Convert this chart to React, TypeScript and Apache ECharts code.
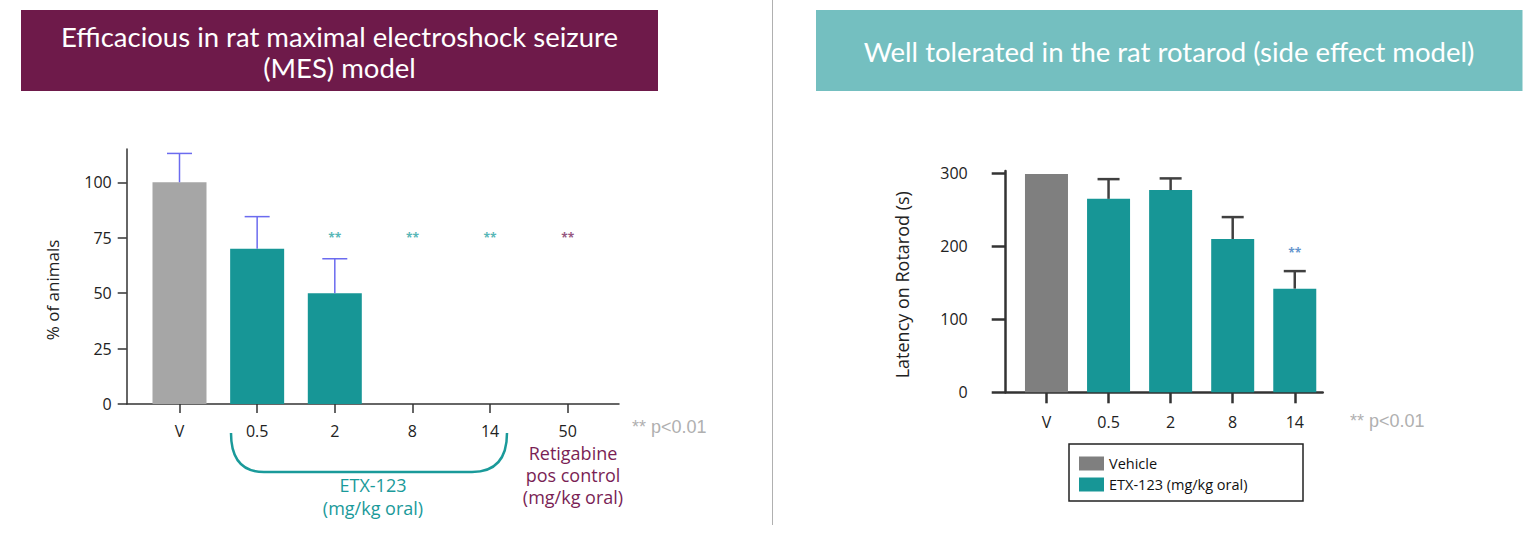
import React, { useEffect, useRef } from "react";
import * as echarts from "echarts";

// ---- Data ----
const leftCategories = ["V", "0.5", "2", "8", "14", "50"];
const leftValues = [100, 70, 50, 0, 0, 0];
const leftErrorTop = [113, 84.5, 65.5, null, null, null];
const leftStarCategories = ["2", "8", "14", "50"];
const leftStarLevel = 75;
const leftYTicks = [0, 25, 50, 75, 100];

const rightCategories = ["V", "0.5", "2", "8", "14"];
const rightValues = [299, 265, 277, 210, 142];
const rightErrorTop = [null, 292, 293, 240, 166];
const rightStarCategories = ["14"];
const rightStarLevel = 192;
const rightYTicks = [0, 100, 200, 300];

const legendNames = ["Vehicle", "ETX-123 (mg/kg oral)"];

const GRAY_L = "#a6a6a6";
const GRAY_R = "#7f7f7f";
const TEAL = "#179696";
const MAROON = "#6e1a4a";
const FONT = "'Open Sans', sans-serif";

function errRender(color: string, width: number, cap: number) {
  return (params: any, api: any) => {
    const x = api.value(0);
    const lo = api.value(1);
    const hi = api.value(2);
    const p1 = api.coord([x, lo]);
    const p2 = api.coord([x, hi]);
    const style = { stroke: color, lineWidth: width };
    return {
      type: "group",
      children: [
        { type: "line", shape: { x1: p1[0], y1: p1[1], x2: p2[0], y2: p2[1] }, style },
        { type: "line", shape: { x1: p2[0] - cap / 2, y1: p2[1], x2: p2[0] + cap / 2, y2: p2[1] }, style },
      ],
    };
  };
}

export default function App() {
  const ref = useRef<HTMLDivElement>(null);
  useEffect(() => {
    if (!ref.current) return;
    const chart = echarts.init(ref.current, null, { renderer: "svg" });

    const leftIdx = leftCategories.map((_, i) => i);
    const rightIdx = rightCategories.map((_, i) => i);

    const leftBarData = leftValues.map((v, i) => ({
      value: [i, v],
      itemStyle: { color: i === 0 ? GRAY_L : TEAL },
    }));
    const leftErrData = leftErrorTop
      .map((t, i) => (t == null ? null : [i, leftValues[i], t]))
      .filter((d) => d !== null);
    const leftStarData = leftStarCategories.map((c) => {
      const i = leftCategories.indexOf(c);
      return {
        value: [i, leftStarLevel],
        label: { color: c === "50" ? "#7a2a5e" : "#2aa3a3" },
      };
    });

    const rightVehicle = rightValues
      .map((v, i) => (i === 0 ? [i, v] : null))
      .filter((d) => d !== null);
    const rightEtx = rightValues
      .map((v, i) => (i > 0 ? [i, v] : null))
      .filter((d) => d !== null);
    const rightErrData = rightErrorTop
      .map((t, i) => (t == null ? null : [i, rightValues[i], t]))
      .filter((d) => d !== null);
    const rightStarData = rightStarCategories.map((c) => [rightCategories.indexOf(c), rightStarLevel]);

    const option: any = {
      animation: false,
      backgroundColor: "#ffffff",
      textStyle: { fontFamily: FONT },
      grid: [
        { left: 126.7, top: 149, width: 492.3, height: 255 },
        { left: 1005.7, top: 171.1, width: 317, height: 221.2 },
      ],
      legend: {
        data: legendNames,
        orient: "vertical",
        left: 1079,
        top: 456,
        itemWidth: 25,
        itemHeight: 14,
        itemGap: 6,
        icon: "rect",
        textStyle: { fontSize: 14.5, color: "#111", fontFamily: FONT },
        padding: 0,
      },
      xAxis: [
        {
          gridIndex: 0,
          type: "value",
          min: -0.68,
          max: 5.66,
          splitLine: { show: false },
          axisLine: { show: true, onZero: false, lineStyle: { color: "#333", width: 1.5 } },
          axisTick: { show: true, customValues: leftIdx, length: 9, lineStyle: { color: "#333", width: 1.5 } },
          axisLabel: {
            customValues: leftIdx,
            formatter: (v: number) => leftCategories[Math.round(v)] ?? "",
            fontSize: 16,
            color: "#222",
            margin: 19,
          },
        },
        {
          gridIndex: 1,
          type: "value",
          min: -0.657,
          max: 4.45,
          splitLine: { show: false },
          axisLine: { show: true, onZero: false, lineStyle: { color: "#333", width: 2.5 } },
          axisTick: { show: true, customValues: rightIdx, length: 11, lineStyle: { color: "#333", width: 2.5 } },
          axisLabel: {
            customValues: rightIdx,
            formatter: (v: number) => rightCategories[Math.round(v)] ?? "",
            fontSize: 16,
            color: "#222",
            margin: 22,
          },
        },
      ],
      yAxis: [
        {
          gridIndex: 0,
          type: "value",
          min: 0,
          max: 115,
          splitLine: { show: false },
          axisLine: { show: true, onZero: false, lineStyle: { color: "#333", width: 1.5 } },
          axisTick: { show: true, customValues: leftYTicks, length: 9, lineStyle: { color: "#333", width: 1.5 } },
          axisLabel: { customValues: leftYTicks, fontSize: 16, color: "#222", margin: 15 },
          name: "% of animals",
          nameLocation: "middle",
          nameGap: 66,
          nameTextStyle: { fontSize: 17, color: "#222", padding: [0, 27, 0, 0] },
        },
        {
          gridIndex: 1,
          type: "value",
          min: 0,
          max: 303,
          splitLine: { show: false },
          axisLine: { show: true, onZero: false, lineStyle: { color: "#333", width: 2.5 } },
          axisTick: { show: true, customValues: rightYTicks, length: 14, lineStyle: { color: "#333", width: 2.5 } },
          axisLabel: { customValues: rightYTicks, fontSize: 16, color: "#222", margin: 38 },
          name: "Latency on Rotarod (s)",
          nameLocation: "middle",
          nameGap: 95,
          nameTextStyle: { fontSize: 18, color: "#222", padding: [0, 6, 0, 0] },
        },
      ],
      series: [
        {
          name: "MES",
          type: "bar",
          xAxisIndex: 0,
          yAxisIndex: 0,
          barWidth: 54,
          data: leftBarData,
        },
        {
          name: "MES error",
          type: "custom",
          xAxisIndex: 0,
          yAxisIndex: 0,
          encode: { x: 0, y: [1, 2] },
          renderItem: errRender("#6b6bef", 1.5, 25),
          data: leftErrData,
          z: 5,
        },
        {
          name: "MES sig",
          type: "scatter",
          xAxisIndex: 0,
          yAxisIndex: 0,
          symbolSize: 0,
          label: { show: true, formatter: "**", position: "inside", fontSize: 12, fontWeight: "bold" },
          data: leftStarData,
        },
        {
          name: legendNames[0],
          type: "bar",
          xAxisIndex: 1,
          yAxisIndex: 1,
          stack: "rot",
          barWidth: 43,
          itemStyle: { color: GRAY_R },
          data: rightVehicle,
        },
        {
          name: legendNames[1],
          type: "bar",
          xAxisIndex: 1,
          yAxisIndex: 1,
          stack: "rot",
          barWidth: 43,
          itemStyle: { color: TEAL },
          data: rightEtx,
        },
        {
          name: "Rotarod error",
          type: "custom",
          xAxisIndex: 1,
          yAxisIndex: 1,
          encode: { x: 0, y: [1, 2] },
          renderItem: errRender("#404040", 2.5, 22),
          data: rightErrData,
          z: 5,
        },
        {
          name: "Rotarod sig",
          type: "scatter",
          xAxisIndex: 1,
          yAxisIndex: 1,
          symbolSize: 0,
          label: { show: true, formatter: "**", position: "inside", fontSize: 12, fontWeight: "bold", color: "#3a78c0" },
          data: rightStarData,
        },
      ],
      graphic: [
        { type: "rect", shape: { x: 21, y: 10, width: 637, height: 81 }, style: { fill: MAROON } },
        {
          type: "text",
          x: 339.5,
          y: 52,
          style: {
            text: "Efficacious in rat maximal electroshock seizure\n(MES) model",
            fill: "#ffffff",
            font: "27.5px Lato, sans-serif",
            lineHeight: 31,
            align: "center",
            verticalAlign: "middle",
          },
        },
        { type: "rect", shape: { x: 816, y: 10, width: 706.5, height: 81 }, style: { fill: "#74bfc0" } },
        {
          type: "text",
          x: 1169,
          y: 51,
          style: {
            text: "Well tolerated in the rat rotarod (side effect model)",
            fill: "#ffffff",
            font: "27.5px Lato, sans-serif",
            align: "center",
            verticalAlign: "middle",
          },
        },
        { type: "line", shape: { x1: 772.5, y1: 0, x2: 772.5, y2: 525 }, style: { stroke: "#b0b0b0", lineWidth: 1 } },
        // bracket for ETX-123
        { type: "bezierCurve", shape: { x1: 231, y1: 433, cpx1: 231, cpy1: 472, x2: 264, y2: 472 }, style: { stroke: "#1a9a9a", lineWidth: 2.5, fill: null } },
        { type: "line", shape: { x1: 264, y1: 472, x2: 472, y2: 472 }, style: { stroke: "#1a9a9a", lineWidth: 2.5 } },
        { type: "bezierCurve", shape: { x1: 472, y1: 472, cpx1: 507, cpy1: 472, x2: 507, y2: 433 }, style: { stroke: "#1a9a9a", lineWidth: 2.5, fill: null } },
        {
          type: "text",
          x: 373,
          y: 496,
          style: {
            text: "ETX-123\n(mg/kg oral)",
            fill: "#1a9a9a",
            font: `18px ${FONT}`,
            lineHeight: 23,
            align: "center",
            verticalAlign: "middle",
          },
        },
        {
          type: "text",
          x: 573,
          y: 475,
          style: {
            text: "Retigabine\npos control\n(mg/kg oral)",
            fill: "#7a1f55",
            font: `18px ${FONT}`,
            lineHeight: 22,
            align: "center",
            verticalAlign: "middle",
          },
        },
        {
          type: "text",
          x: 632,
          y: 427,
          style: { text: "** p<0.01", fill: "#b0b0b0", font: "18px 'Liberation Sans', sans-serif", verticalAlign: "middle" },
        },
        {
          type: "text",
          x: 1350,
          y: 421,
          style: { text: "** p<0.01", fill: "#b0b0b0", font: "18px 'Liberation Sans', sans-serif", verticalAlign: "middle" },
        },
        { type: "rect", shape: { x: 1069, y: 444, width: 234, height: 57 }, style: { fill: null, stroke: "#222", lineWidth: 1.5 } },
      ],
    };
    chart.setOption(option);
    return () => chart.dispose();
  }, []);
  return (
    <div
      ref={ref}
      style={{ position: "fixed", left: 0, top: 0, width: 1540, height: 538, background: "#fff" }}
    />
  );
}
